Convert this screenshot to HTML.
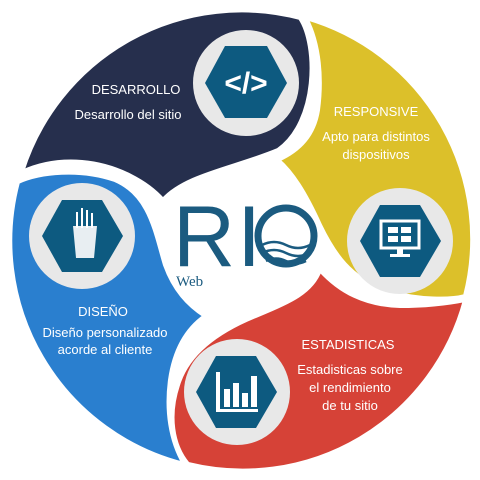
<!DOCTYPE html>
<html><head><meta charset="utf-8"><style>
html,body{margin:0;padding:0;background:#fff;width:480px;height:480px;overflow:hidden}
svg text{font-family:"Liberation Sans",sans-serif;fill:#fff}
</style></head><body>
<svg width="480" height="480" viewBox="0 0 480 480">
<g stroke="#fff" stroke-width="4">
<path fill="#262f4d" d="M 22,172 A 230,230 0 0 1 300,18 C 318,45 318,122 278,150 C 235,168 185,175 163,200 C 148,183 118,165 82,162 C 57,160 37,165 22,172 Z"/>
<path fill="#dcc02a" d="M 306,18 A 230,230 0 0 1 465,296 C 450,300 420,300 390,292 C 350,280 333,252 320,225 C 305,192 292,172 278,160 C 300,150 314,135 318,110 C 322,80 320,45 306,18 Z"/>
<path fill="#d64237" d="M 465,300 A 230,230 0 0 1 188,464 C 172,445 168,415 178,385 C 188,352 220,330 258,315 C 290,302 312,292 320,270 C 340,292 365,305 400,306 C 430,306 450,303 465,300 Z"/>
<path fill="#2a7fcf" d="M 184,464 A 230,230 0 0 1 18,182 C 40,172 80,168 115,180 C 150,195 155,232 165,265 C 174,290 188,305 205,316 C 185,330 174,352 170,380 C 166,410 170,440 184,464 Z"/>
</g>
<g>
<circle cx="246" cy="83" r="53" fill="#e8e8e8"/>
<circle cx="400" cy="241" r="53" fill="#e8e8e8"/>
<circle cx="237" cy="392" r="53" fill="#e8e8e8"/>
<circle cx="82" cy="236" r="53" fill="#e8e8e8"/>
<polygon fill="#0d5a80" points="205,83 225,46 267,46 287,83 267,118 225,118"/>
<polygon fill="#0d5a80" points="360,241 380,205 420,205 441,241 420,277 380,277"/>
<polygon fill="#0d5a80" points="196,392 216,356 256,356 277,392 256,428 216,428"/>
<polygon fill="#0d5a80" points="42,236 62,200 102,200 123,236 102,272 62,272"/>
</g>
<text x="246" y="93" font-size="30" text-anchor="middle" font-weight="bold">&lt;/&gt;</text>
<g fill="#fff">
<rect x="381" y="221" width="38" height="27" fill="none" stroke="#fff" stroke-width="3"/>
<rect x="388" y="227" width="10" height="6"/><rect x="401" y="227" width="10" height="6"/>
<rect x="388" y="236" width="10" height="6"/><rect x="401" y="236" width="10" height="6"/>
<rect x="397" y="248" width="6" height="6"/><rect x="390" y="254" width="20" height="3"/>
<rect x="216" y="372" width="4" height="40"/><rect x="216" y="409" width="42" height="3"/>
<rect x="224" y="389" width="6" height="18"/><rect x="233" y="383" width="6" height="24"/><rect x="242" y="393" width="6" height="14"/><rect x="251" y="376" width="6" height="31"/>
<path d="M 73,226 L 97,226 L 94,258 L 76,258 Z" fill="#e8eef2"/>
<rect x="76" y="212" width="2" height="16"/><rect x="81" y="208" width="2" height="20"/><rect x="86" y="210" width="2" height="18"/><rect x="91" y="213" width="2" height="15"/>
</g>
<g>
<text x="173" y="266" font-size="86" style="fill:#1b5b80" letter-spacing="2">RI</text>
<circle cx="286" cy="236" r="28" fill="none" stroke="#1b5b80" stroke-width="7"/>
<path d="M 262,245 q 12,-6 24,0 t 24,0 M 262,253 q 12,-6 24,0 t 24,0 M 266,261 q 10,-5 20,0 t 20,0" fill="none" stroke="#1b5b80" stroke-width="2.5"/>
<text x="176" y="286" font-size="15" style="fill:#1b5b80;font-family:'Liberation Serif',serif">Web</text>
</g>
<g font-size="13" text-anchor="middle">
<text x="136" y="94">DESARROLLO</text>
<text x="128" y="119">Desarrollo del sitio</text>
<text x="376" y="116">RESPONSIVE</text>
<text x="376" y="141">Apto para distintos</text>
<text x="376" y="159">dispositivos</text>
<text x="103" y="316">DISEÑO</text>
<text x="105" y="337">Diseño personalizado</text>
<text x="105" y="354">acorde al cliente</text>
<text x="348" y="349">ESTADISTICAS</text>
<text x="350" y="374">Estadisticas sobre</text>
<text x="350" y="392">el rendimiento</text>
<text x="350" y="410">de tu sitio</text>
</g>
</svg>
</body></html>
